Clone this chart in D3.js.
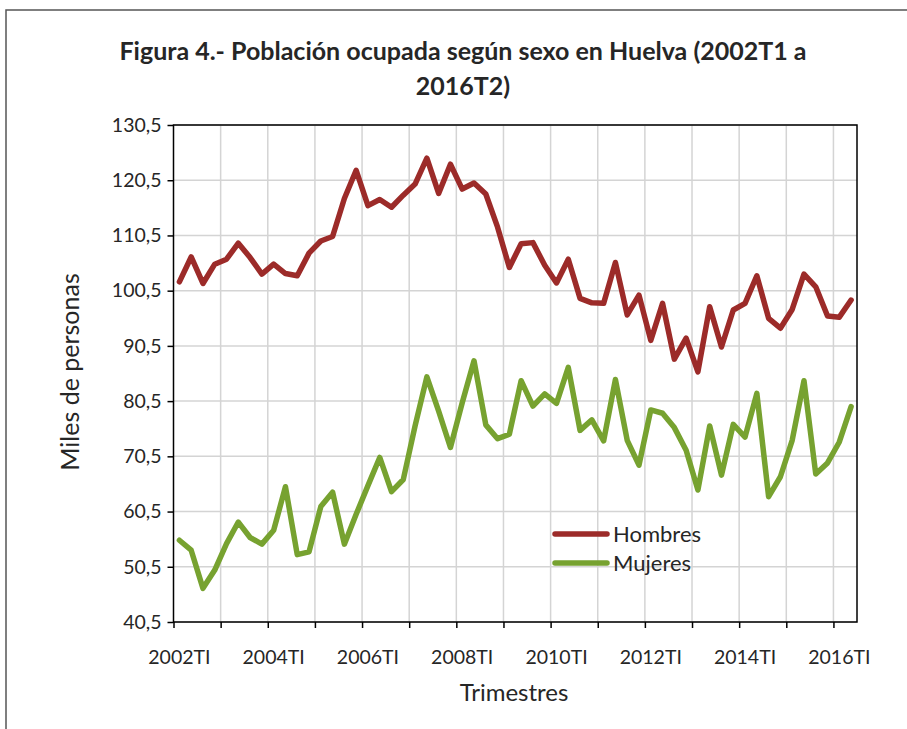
<!DOCTYPE html>
<meta charset="utf-8">
<style>
body { margin: 0; background: #fff; }
text { font-family: Lato, "Open Sans", sans-serif; fill: #262626; }
.grid line { stroke: #d4d4d4; stroke-width: 1.5px; }
.axis path, .axis line { stroke: #000; stroke-width: 1.5px; }
.axis text { font-size: 19.5px; fill: #262626; }
.line { fill: none; stroke-width: 5.5px; stroke-linejoin: round; stroke-linecap: round; }
</style>
<body>
<script src="https://d3js.org/d3.v7.min.js"></script>
<script>

// categories: quarters 2002TI .. 2016TII
var years = d3.range(2002, 2017);
var quarters = years.flatMap(function(y) {
  return ["TI", "TII", "TIII", "TIV"].map(function(q) { return y + q; });
}).slice(0, 58);

var hombres = [102.1, 106.6, 101.8, 105.3, 106.2, 109.1, 106.5, 103.5, 105.3, 103.6,
  103.2, 107.3, 109.5, 110.3, 117.2, 122.3, 115.9, 117.0, 115.6, 117.8,
  119.8, 124.5, 118.1, 123.4, 118.9, 120.0, 118.0, 112.0, 104.7, 109.0,
  109.2, 105.1, 101.9, 106.2, 99.1, 98.3, 98.2, 105.6, 96.1, 99.7,
  91.5, 98.2, 88.1, 91.9, 85.8, 97.6, 90.3, 97.0, 98.2, 103.2,
  95.5, 93.7, 97.1, 103.5, 101.2, 95.9, 95.7, 98.8];

var mujeres = [55.3, 53.5, 46.6, 49.9, 54.7, 58.6, 55.8, 54.6, 57.1, 65.0,
  52.7, 53.2, 61.4, 64.0, 54.6, 60.0, 65.2, 70.3, 64.1, 66.3,
  76.0, 84.9, 78.7, 72.1, 80.2, 87.8, 76.2, 73.7, 74.5, 84.2,
  79.6, 81.8, 80.1, 86.6, 75.2, 77.1, 73.3, 84.4, 73.4, 68.9,
  78.9, 78.3, 75.7, 71.6, 64.4, 76.0, 67.1, 76.3, 74.0, 81.9,
  63.2, 66.8, 73.4, 84.2, 67.3, 69.3, 73.1, 79.5];

var yTicks = d3.range(40.5, 131, 10);
var xLabels = quarters.filter(function(d, i) { return i % 8 === 0; });

var series = [
  {name: "Hombres", values: hombres, color: "#9c2b29"},
  {name: "Mujeres", values: mujeres, color: "#77a230"}
];

var W = 907, H = 729;
var pLeft = 173.5, pRight = 857, pTop = 125, pBottom = 622;

var svg = d3.select("body").append("svg")
    .attr("width", W)
    .attr("height", H);

// outer frame
svg.append("rect")
    .attr("x", 6).attr("y", 10)
    .attr("width", 1000).attr("height", 1000)
    .attr("fill", "none").attr("stroke", "#555").attr("stroke-width", 1.5);

var x = d3.scaleBand().domain(quarters).range([pLeft, pRight]);
var xl = d3.scaleLinear().domain([0, 58]).range([pLeft, pRight]);
var y = d3.scaleLinear().domain([40.5, 130.5]).range([pBottom, pTop]);

// grid
var grid = svg.append("g").attr("class", "grid");
grid.selectAll(".h").data(yTicks).enter().append("line")
    .attr("x1", pLeft).attr("x2", pRight)
    .attr("y1", function(d) { return y(d); })
    .attr("y2", function(d) { return y(d); });
grid.selectAll(".v").data(d3.range(4, 57, 4)).enter().append("line")
    .attr("y1", pTop).attr("y2", pBottom)
    .attr("x1", function(d) { return xl(d); })
    .attr("x2", function(d) { return xl(d); });

// plot border
svg.append("rect")
    .attr("x", pLeft).attr("y", pTop)
    .attr("width", pRight - pLeft).attr("height", pBottom - pTop)
    .attr("fill", "none").attr("stroke", "#000").attr("stroke-width", 1.5);

// y axis
svg.append("g")
    .attr("class", "axis")
    .attr("transform", "translate(" + pLeft + ",0)")
    .call(d3.axisLeft(y).tickValues(yTicks).tickSize(6).tickPadding(6)
      .tickFormat(function(d) { return d3.format(".1f")(d).replace(".", ","); }))
    .call(function(g) { g.select(".domain").remove(); });

// x axis ticks at category boundaries
svg.append("g")
    .attr("class", "axis")
    .attr("transform", "translate(0," + pBottom + ")")
    .call(d3.axisBottom(xl).tickValues(d3.range(0, 57, 4)).tickSize(6).tickFormat(""))
    .call(function(g) { g.select(".domain").remove(); });

// x labels at category centres
svg.append("g")
    .attr("class", "axis")
    .attr("transform", "translate(0," + pBottom + ")")
    .call(d3.axisBottom(x).tickValues(xLabels).tickSize(0).tickPadding(28))
    .call(function(g) { g.select(".domain").remove(); g.selectAll("line").remove(); });

// lines
var line = d3.line()
    .x(function(d, i) { return x(quarters[i]) + x.bandwidth() / 2; })
    .y(function(d) { return y(d); });

svg.selectAll(".line").data(series).enter().append("path")
    .attr("class", "line")
    .attr("stroke", function(d) { return d.color; })
    .attr("d", function(d) { return line(d.values); });

// legend
var legend = svg.selectAll(".legend").data(series).enter().append("g")
    .attr("transform", function(d, i) { return "translate(555," + (534 + i * 29) + ")"; });
legend.append("line")
    .attr("x1", 0).attr("x2", 52)
    .attr("stroke", function(d) { return d.color; })
    .attr("stroke-width", 5.5).attr("stroke-linecap", "round");
legend.append("text")
    .attr("x", 58).attr("y", 8)
    .style("font-size", "22px")
    .text(function(d) { return d.name; });

// title
svg.append("text")
    .attr("x", 463).attr("y", 60)
    .attr("text-anchor", "middle")
    .style("font-size", "25px").style("font-weight", "bold")
    .text("Figura 4.- Población ocupada según sexo en Huelva (2002T1 a");
svg.append("text")
    .attr("x", 463).attr("y", 95)
    .attr("text-anchor", "middle")
    .style("font-size", "25px").style("font-weight", "bold")
    .text("2016T2)");

// axis titles
svg.append("text")
    .attr("transform", "translate(79,372) rotate(-90)")
    .attr("text-anchor", "middle")
    .style("font-size", "25px")
    .text("Miles de personas");
svg.append("text")
    .attr("x", 514).attr("y", 701)
    .attr("text-anchor", "middle")
    .style("font-size", "24px")
    .text("Trimestres");

</script>
</body>
